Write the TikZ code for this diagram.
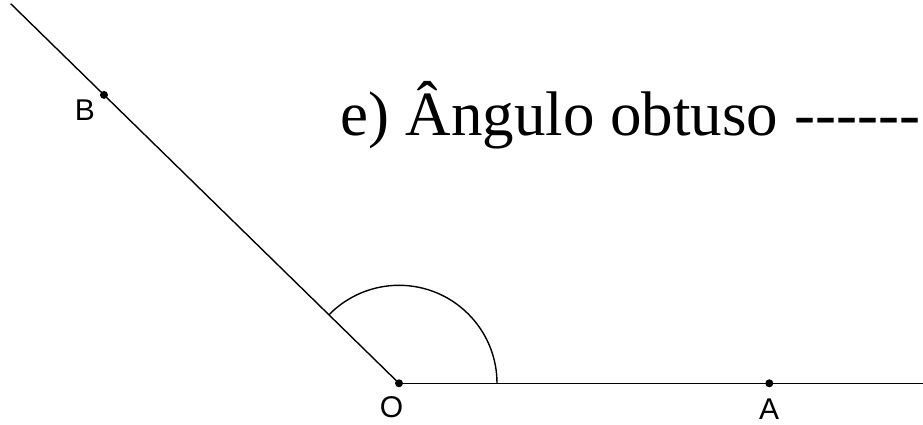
\documentclass[tikz,border=0pt]{standalone}
\usepackage{fontspec}
\newfontfamily\titlefont{Liberation Serif}
\newfontfamily\labelfont{Liberation Sans}
\usepackage{tikz}
\usetikzlibrary{
	calc,
	positioning
}

\begin{document}
\begin{tikzpicture}[
				x=1pt, y=1pt,
				ray/.style={line width=1.4pt},
				anglemark/.style={line width=1.4pt},
				ptlabel/.style={font=\labelfont\fontsize{30}{34}\selectfont, inner sep=0pt},
				title/.style={font=\titlefont\fontsize{63}{70}\selectfont, inner sep=0pt, anchor=base west}
			]
				\useasboundingbox (0, 0) rectangle (923, 424);
				% 坐标
				\coordinate (O) at (399, 40.7);
				\coordinate (A) at (769.3, 40.7);
				\coordinate (rightEnd) at (923, 40.7);
				\coordinate (B) at ($(O) + (135.65:412.6)$);
				\coordinate (topEnd) at ($(O) + (135.65:543)$);

				% 射线
				\draw[ray] (O) -- (rightEnd);
				\draw[ray] (O) -- (topEnd);

				% 角度标志线
				\draw[anglemark] (O) ++ (98, 0) arc (0: 135.65: 98);

				% 点
				\fill (O) circle (4pt);
				\fill (A) circle (4pt);
				\fill (B) circle (4pt);

				% 标签
				\node[ptlabel] (labelO) at (391.5, 17) {O};
				\node[ptlabel] (labelA) at (769, 15) {A};
				\node[ptlabel] (labelB) at (85, 314) {B};

				% 标题
				\node[title] (caption) at (340.7, 289) {e) Ângulo obtuso -\kern0pt-\kern0pt-\kern0pt-\kern0pt-\kern0pt-};
			\end{tikzpicture}
\end{document}
